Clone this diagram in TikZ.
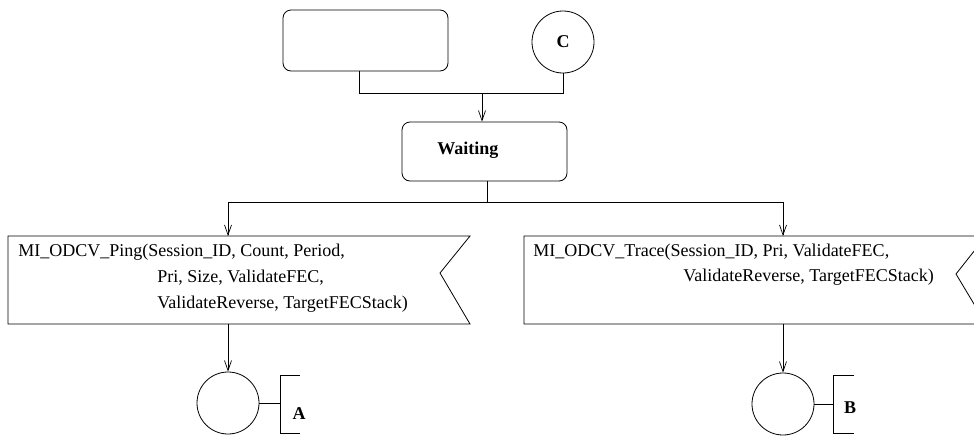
\documentclass[tikz,border=0pt]{standalone}
\usepackage{fontspec}
\setmainfont{Liberation Serif}
\usetikzlibrary{arrows.meta}
\begin{document}
\begin{tikzpicture}[x=1pt,y=-1pt,line width=0.8pt,
  rbox/.style={draw,rounded corners=8pt,inner sep=0pt},
  circ/.style={draw,circle,inner sep=0pt,minimum size=#1},
  plain/.style={inner sep=0pt,outer sep=0pt},
  txt/.style={anchor=base west,inner sep=0pt,font=\fontsize{18}{22}\selectfont},
  btxt/.style={inner sep=0pt,font=\fontsize{18}{22}\selectfont\bfseries},
  arr/.style={-{Straight Barb[length=10pt,width=7pt,line width=0.7pt]}}]
\useasboundingbox (0,0) rectangle (974,437);
% top
\node[rbox,minimum width=165pt,minimum height=61pt] (start) at (365.5,40.5) {};
\node[circ=62pt,btxt] (C) at (563,42) {C};
\coordinate (j1) at (482,93);
\draw ([xshift=-6.5pt]start.south) |- (C.south |- j1) -- (C.south);
\node[rbox,minimum width=165pt,minimum height=59pt] (wait) at (484.5,151.5) {};
\draw[arr] (j1) -- (j1 |- wait.north);
\node[btxt,anchor=base west] (waitlbl) at (437,154) {Waiting};
\coordinate (j2) at (487,202);
\draw ([xshift=2.5pt]wait.south) -- (j2);
% ping box
\node[plain,minimum width=462pt,minimum height=88pt] (ping) at (239,280) {};
\draw (ping.north west) -- (ping.north east) -- ++(-30,37) -- (ping.south east) -- (ping.south west) -- cycle;
\node[txt] (ping1) at (18,256) {MI\_ODCV\_Ping(Session\_ID, Count, Period,};
\node[txt] (ping2) at (157,282) {Pri, Size, ValidateFEC,};
\node[txt] (ping3) at (157,308) {ValidateReverse, TargetFECStack)};
% trace box
\node[plain,minimum width=462pt,minimum height=88pt] (trace) at (755,280) {};
\draw (trace.north east) -- (trace.north west) -- (trace.south west) -- (trace.south east) -- ++(-30,-50) -- cycle;
\node[txt] (trace1) at (533,256) {MI\_ODCV\_Trace(Session\_ID, Pri, ValidateFEC,};
\node[txt] (trace2) at (683,281) {ValidateReverse, TargetFECStack)};
\draw[arr] (j2) -| ([xshift=-11pt]ping.north);
\draw[arr] (j2) -| ([xshift=28pt]trace.north);
% A
\node[circ=62pt] (cA) at (228,403) {};
\draw[arr] ([xshift=-11pt]ping.south) -- (cA.north);
\coordinate (brA) at (280,403);
\draw (cA.east) -- (brA);
\draw (300,375) -- (280,375) -- (280,433) -- (300,433);
\node[btxt,anchor=base] (lblA) at (299,419) {A};
% B
\node[circ=62pt] (cB) at (783,404) {};
\draw[arr] ([xshift=28pt]trace.south) -- (cB.north);
\coordinate (brB) at (833,404);
\draw (cB.east) -- (brB);
\draw (854,375) -- (833,375) -- (833,433) -- (854,433);
\node[btxt,anchor=base] (lblB) at (850,413) {B};
\end{tikzpicture}
\end{document}
